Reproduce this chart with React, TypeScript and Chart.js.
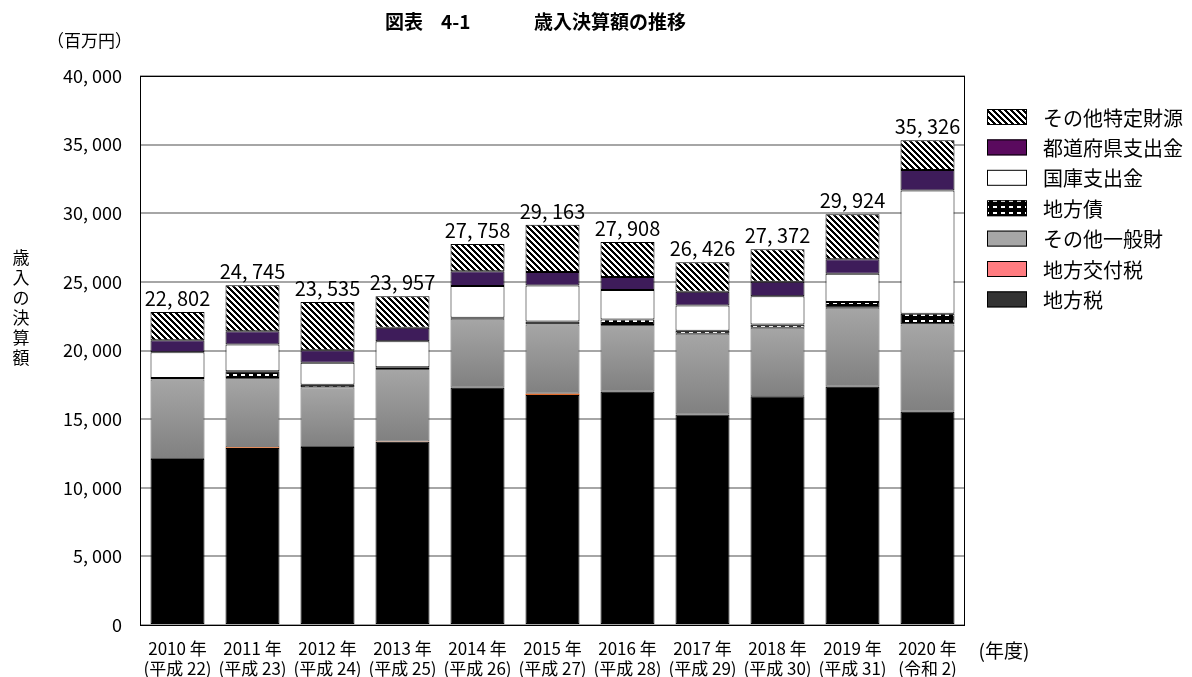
import React, { useEffect, useRef } from 'react';
import { Chart, registerables } from 'chart.js';
Chart.register(...registerables);

const years = ['2010 年', '2011 年', '2012 年', '2013 年', '2014 年', '2015 年', '2016 年', '2017 年', '2018 年', '2019 年', '2020 年'];
const eras = ['(平成 22)', '(平成 23)', '(平成 24)', '(平成 25)', '(平成 26)', '(平成 27)', '(平成 28)', '(平成 29)', '(平成 30)', '(平成 31)', '(令和 2)'];

const chihouzei = [12090, 12900, 12970, 13360, 17280, 16750, 16990, 15330, 16660, 17350, 15530];
const koufuzei = [5, 50, 5, 5, 5, 100, 5, 5, 5, 5, 5];
const sonotaIppan = [5785, 5050, 4345, 5295, 5025, 5050, 4855, 5885, 4995, 5765, 6365];
const chihousai = [120, 490, 180, 120, 80, 220, 410, 220, 240, 410, 780];
const kokko = [1880, 1950, 1600, 1900, 2310, 2620, 2140, 1840, 2060, 2070, 8980];
const todoufuken = [870, 970, 920, 980, 1070, 980, 950, 1000, 1050, 1040, 1500];
const sonotaTokutei = [2052, 3335, 3515, 2297, 1988, 3443, 2558, 2146, 2362, 3284, 2166];
const totals = [22802, 24745, 23535, 23957, 27758, 29163, 27908, 26426, 27372, 29924, 35326];

const yTicks = [0, 5000, 10000, 15000, 20000, 25000, 30000, 35000, 40000];

const FONT = "'Noto Sans CJK JP', 'Noto Sans', sans-serif";
const fmt = (n: number) => n.toLocaleString('en-US').replace(/,/g, ', ');

function makeStripes(): CanvasPattern {
  const c = document.createElement('canvas');
  c.width = 6; c.height = 6;
  const g = c.getContext('2d')!;
  const img = g.createImageData(6, 6);
  for (let y = 0; y < 6; y++) for (let x = 0; x < 6; x++) {
    const v = ((x - y + 12) % 6) < 3 ? 0 : 255;
    const k = (y * 6 + x) * 4;
    img.data[k] = v; img.data[k + 1] = v; img.data[k + 2] = v; img.data[k + 3] = 255;
  }
  g.putImageData(img, 0, 0);
  return g.createPattern(c, 'repeat')!;
}

function makeDots(): CanvasPattern {
  const c = document.createElement('canvas');
  c.width = 8; c.height = 6;
  const g = c.getContext('2d')!;
  g.fillStyle = '#000';
  g.fillRect(0, 0, 8, 6);
  g.fillStyle = '#fff';
  g.fillRect(1, 2, 4, 2);
  return g.createPattern(c, 'repeat')!;
}

export default function App() {
  const ref = useRef<HTMLCanvasElement>(null);
  useEffect(() => {
    document.body.style.margin = '0';
    const canvas = ref.current!;
    const stripes = makeStripes();
    const dots = makeDots();

    const series = [chihouzei, koufuzei, sonotaIppan, chihousai, kokko, todoufuken, sonotaTokutei];

    const grayGradient = (ctx: any) => {
      const chart = ctx.chart;
      const y = chart.scales?.y;
      if (!chart.chartArea || !y || ctx.dataIndex === undefined) return '#999999';
      const i = ctx.dataIndex;
      const ds = ctx.datasetIndex;
      let base = 0;
      for (let k = 0; k < ds; k++) base += series[k][i];
      const top = base + series[ds][i];
      const y0 = y.getPixelForValue(top);
      const y1 = y.getPixelForValue(base);
      if (!isFinite(y0) || !isFinite(y1) || y0 === y1) return '#999999';
      const g = chart.ctx.createLinearGradient(0, y0, 0, y1);
      g.addColorStop(0, '#a6a6a6');
      g.addColorStop(1, '#808080');
      return g;
    };

    const legendItems = [
      { label: 'その他特定財源', fill: stripes },
      { label: '都道府県支出金', fill: '#5a0a5e' },
      { label: '国庫支出金', fill: '#ffffff' },
      { label: '地方債', fill: dots },
      { label: 'その他一般財', fill: '#a6a6a6' },
      { label: '地方交付税', fill: '#ff7c80' },
      { label: '地方税', fill: '#333333' },
    ];

    const extras = {
      id: 'extras',
      afterDatasetsDraw(chart: any) {
        const c = chart.ctx;
        const ca = chart.chartArea;
        c.save();
        c.strokeStyle = '#000';
        c.lineWidth = 1;
        c.strokeRect(ca.left + 0.5, ca.top + 0.5, ca.right - ca.left - 1, ca.bottom - ca.top);
        const meta = chart.getDatasetMeta(6);
        c.fillStyle = '#000';
        c.font = `20px ${FONT}`;
        c.textAlign = 'center';
        c.textBaseline = 'alphabetic';
        meta.data.forEach((el: any, i: number) => {
          c.fillText(fmt(totals[i]), el.x, el.y - 6);
        });
        c.restore();
      },
      afterDraw(chart: any) {
        const c = chart.ctx;
        c.save();
        c.fillStyle = '#000';
        c.textBaseline = 'middle';
        c.font = `bold 19px ${FONT}`;
        c.textAlign = 'left';
        c.fillText('図表', 385, 22);
        c.fillText('4-1', 441, 22);
        c.fillText('歳入決算額の推移', 534, 22);
        c.font = `17px ${FONT}`;
        c.fillText('（百万円）', 47, 41);
        c.font = `17px ${FONT}`;
        c.textAlign = 'center';
        const yt = '歳入の決算額';
        for (let k = 0; k < yt.length; k++) c.fillText(yt[k], 21, 258 + 20 * k);
        c.font = `19px ${FONT}`;
        c.fillText('(年度)', 1004, 651);
        c.textAlign = 'left';
        c.font = `20px ${FONT}`;
        legendItems.forEach((it, k) => {
          const cy = 117 + 30.4 * k;
          c.fillStyle = it.fill as any;
          c.fillRect(987, cy - 8, 40, 16);
          c.strokeStyle = '#000';
          c.lineWidth = 1;
          c.strokeRect(987.5, cy - 7.5, 39, 15);
          c.fillStyle = '#000';
          c.fillText(it.label, 1043, cy + 1);
        });
        c.restore();
      },
    };

    const chart = new Chart(canvas, {
      type: 'bar',
      data: {
        labels: years.map((y, i) => [y, eras[i]]),
        datasets: [
          { label: '地方税', data: chihouzei, backgroundColor: '#000000', borderColor: '#000000', borderWidth: 1 },
          { label: '地方交付税', data: koufuzei, backgroundColor: '#e06a2a', borderColor: '#c8642a', borderWidth: 0 },
          { label: 'その他一般財', data: sonotaIppan, backgroundColor: grayGradient, borderColor: '#555555', borderWidth: 1 },
          { label: '地方債', data: chihousai, backgroundColor: dots, borderColor: '#000000', borderWidth: 1 },
          { label: '国庫支出金', data: kokko, backgroundColor: '#ffffff', borderColor: '#000000', borderWidth: 1 },
          { label: '都道府県支出金', data: todoufuken, backgroundColor: '#3e1c5a', borderColor: '#000000', borderWidth: 1 },
          { label: 'その他特定財源', data: sonotaTokutei, backgroundColor: stripes, borderColor: '#000000', borderWidth: 1 },
        ] as any,
      },
      options: {
        responsive: true,
        maintainAspectRatio: false,
        animation: false,
        layout: { padding: { left: 0, top: 76, right: 227, bottom: 0 } },
        datasets: { bar: { categoryPercentage: 1, barPercentage: 0.72, borderSkipped: false } } as any,
        plugins: { legend: { display: false }, title: { display: false }, tooltip: { enabled: false } },
        scales: {
          x: {
            stacked: true,
            grid: { display: false },
            border: { display: false },
            ticks: { color: '#000', font: { family: FONT, size: 17, lineHeight: 1.2 }, maxRotation: 0, autoSkip: false, padding: 5 },
            afterFit: (s: any) => { s.height = 52; },
          },
          y: {
            stacked: true,
            min: 0,
            max: 40000,
            afterBuildTicks: (s: any) => { s.ticks = yTicks.map((v) => ({ value: v })); },
            grid: { color: '#a6a6a6', lineWidth: 2, drawTicks: false },
            border: { display: false },
            ticks: { color: '#000', font: { family: FONT, size: 18 }, padding: 18, callback: (v: any) => fmt(Number(v)) },
            afterFit: (s: any) => { s.width = 140; },
          },
        },
      },
      plugins: [extras],
    });
    return () => chart.destroy();
  }, []);
  return (
    <div style={{ width: 1192, height: 677, position: 'relative' }}>
      <canvas ref={ref} />
    </div>
  );
}
